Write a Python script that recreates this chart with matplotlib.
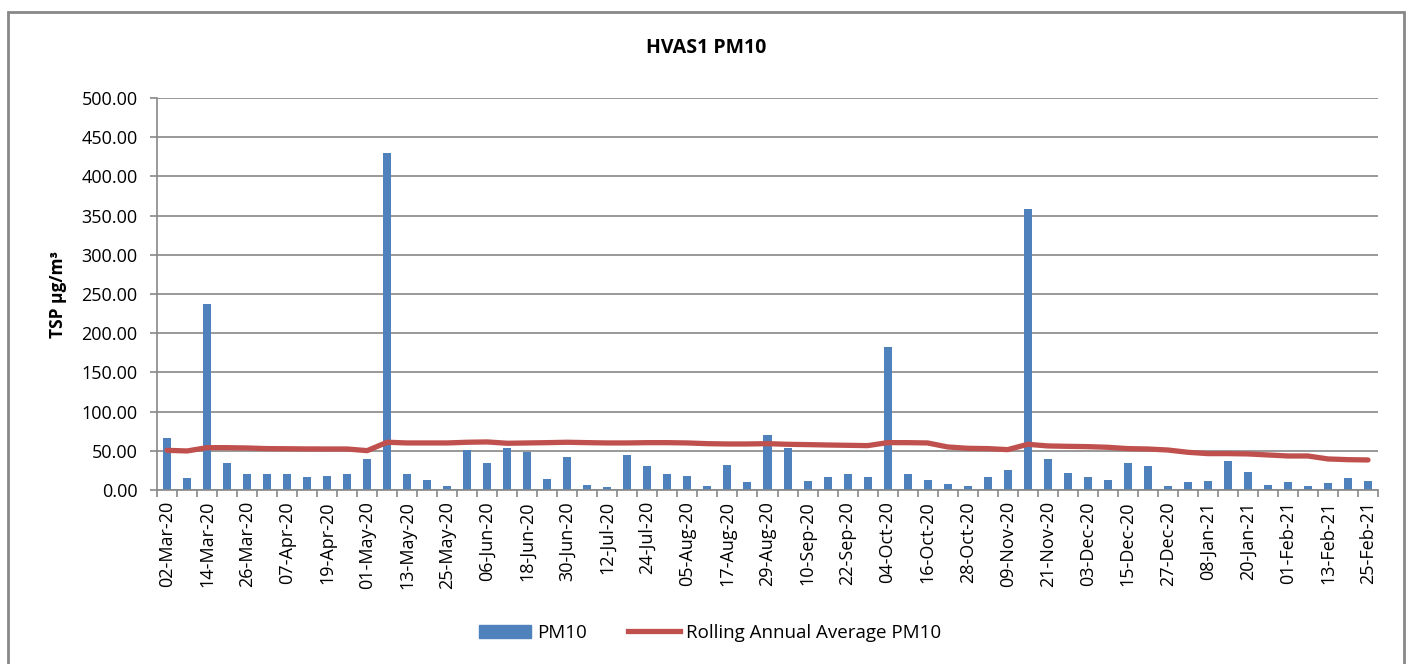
import matplotlib.pyplot as plt
import matplotlib.patches as mpatches
from matplotlib.lines import Line2D
import numpy as np
import pandas as pd

# sampling dates, one every six days
dates = pd.date_range('2020-03-02', '2021-02-25', freq='6D')
date_labels = [d.strftime('%d-%b-%y') for d in dates]

pm10 = [66, 15, 237, 35, 20, 21, 20, 16, 18, 20,
        40, 430, 20, 13, 5, 51, 35, 54, 48, 14,
        42, 7, 4, 45, 30, 20, 18, 5, 32, 10,
        70, 54, 11, 17, 20, 17, 182, 21, 13, 8,
        5, 17, 25, 359, 40, 22, 16, 13, 35, 31,
        5, 10, 12, 37, 23, 6, 10, 5, 9, 15, 11]

rolling_avg = [50.6, 49.8, 54.0, 54.0, 53.6, 52.8, 52.6, 52.4, 52.3, 52.3,
               50.2, 60.9, 60.0, 60.0, 60.0, 60.9, 61.3, 59.6, 60.0, 60.4,
               60.9, 60.4, 60.0, 60.0, 60.4, 60.4, 60.0, 59.1, 58.7, 58.7,
               59.1, 58.3, 57.9, 57.4, 57.0, 56.6, 60.4, 60.4, 60.0, 54.9,
               53.2, 52.8, 51.5, 58.3, 56.2, 55.7, 55.3, 54.5, 52.8, 52.3,
               51.0, 48.1, 46.4, 46.4, 46.0, 44.7, 43.4, 43.4, 39.6, 38.7, 38.3]

blue = '#4F81BD'
red = '#C0504D'
grey = '#888888'

plt.rcParams['font.family'] = ['Open Sans', 'DejaVu Sans']

fig = plt.figure(figsize=(14.08, 6.64), dpi=100)
ax = fig.add_axes([157 / 1408, 1 - 490 / 664, (1378 - 157) / 1408, (490 - 98) / 664])

x = np.arange(len(pm10))
ax.bar(x, pm10, width=0.4, color=blue, zorder=2)
ax.plot(x, rolling_avg, color=red, linewidth=3.8, solid_capstyle='round', zorder=3)

ax.set_xlim(-0.5, len(pm10) - 0.5)
ax.set_ylim(0, 500)
ax.set_yticks(np.arange(0, 501, 50))
ax.set_yticklabels([f'{v:.2f}' for v in np.arange(0, 501, 50)], fontsize=13)
ax.grid(axis='y', color=grey, linewidth=1.2, zorder=0)

# labels on every second bar, tick marks at category boundaries
ax.set_xticks(x[::2])
ax.set_xticklabels(date_labels[::2], rotation=90, fontsize=13)
ax.tick_params(axis='x', length=0, pad=8)
ax.set_xticks(np.arange(-0.5, len(pm10), 1), minor=True)
ax.tick_params(axis='x', which='minor', length=5, color=grey, width=1.2)
ax.tick_params(axis='y', length=5, color=grey, width=1.2, pad=9)

for s in ['top', 'right']:
    ax.spines[s].set_visible(False)
for s in ['left', 'bottom']:
    ax.spines[s].set_color(grey)
    ax.spines[s].set_linewidth(1.2)

ax.set_ylabel('TSP µg/m³', fontsize=12.5, fontweight='bold', labelpad=10)
fig.text(706 / 1408, 1 - 48 / 664, 'HVAS1 PM10', ha='center', va='center',
         fontsize=14, fontweight='bold')

handles = [mpatches.Patch(color=blue, label='PM10'),
           Line2D([0], [0], color=red, linewidth=3.8, label='Rolling Annual Average PM10')]
fig.legend(handles=handles, loc='center', bbox_to_anchor=(710 / 1408, 1 - 633 / 664),
           ncol=2, frameon=False, fontsize=13.5, handlelength=2.8, columnspacing=2.2,
           handletextpad=0.3, handleheight=0.75)

# outer chart border
fig.patches.append(mpatches.Rectangle((8 / 1408, -0.02), (1404 - 8) / 1408, 1 - 12 / 664 + 0.02,
                                      transform=fig.transFigure, fill=False,
                                      edgecolor=grey, linewidth=2))

fig.savefig('out.png', dpi=100)
